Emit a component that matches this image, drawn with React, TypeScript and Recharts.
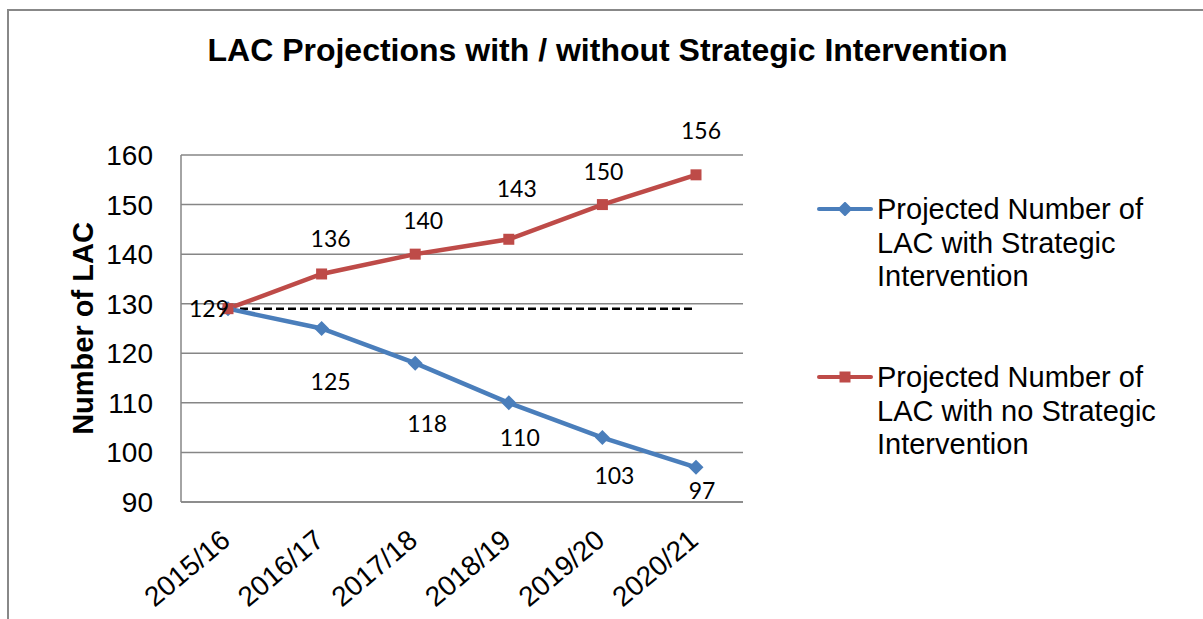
import { LineChart, Line, XAxis, YAxis, CartesianGrid, Label } from 'recharts'

const years = ['2015/16', '2016/17', '2017/18', '2018/19', '2019/20', '2020/21']
const withIntervention = [129, 125, 118, 110, 103, 97]
const noIntervention = [129, 136, 140, 143, 150, 156]
const baseline = [129, 129, 129, 129, 129, 129]
const yTicks = [90, 100, 110, 120, 130, 140, 150, 160]

const FONT = '"Liberation Sans", Arial, sans-serif'
const BLUE = '#4A7EBB'
const RED = '#BE4B48'

// label nudges relative to each point (Excel labels were hand placed)
const blueNudge: ([number, number] | null)[] = [null, [9, 53], [12, 61], [11, 35], [12, 38], [6, 24]]
const redNudge: [number, number][] = [[-19, 0], [9, -35], [8, -33], [8, -50], [1, -33], [5, -44]]

const data = years.map((year, i) => ({
  year,
  withIntervention: withIntervention[i],
  noIntervention: noIntervention[i],
  baseline: baseline[i],
}))

const series = [
  { key: 'withIntervention', name: 'Projected Number of LAC with Strategic Intervention', color: BLUE, shape: 'diamond' },
  { key: 'noIntervention', name: 'Projected Number of LAC with no Strategic Intervention', color: RED, shape: 'square' },
]

const Marker = ({ cx, cy, shape, color }: any) => {
  if (cx == null || cy == null) return null
  if (shape === 'diamond') {
    return <polygon points={`${cx},${cy - 7.5} ${cx + 7.5},${cy} ${cx},${cy + 7.5} ${cx - 7.5},${cy}`} fill={color} />
  }
  return <rect x={cx - 5.5} y={cy - 5.5} width={11} height={11} fill={color} />
}

const makeLabel = (nudges: any[]) => (props: any) => {
  const { x, y, value, index } = props
  const n = nudges[index]
  if (!n || x == null) return null
  return (
    <text
      key={`l${index}`}
      x={x + n[0]}
      y={y + n[1] + 8}
      textAnchor="middle"
      fontSize={23}
      fontFamily="Lato, sans-serif"
      fill="#000"
    >
      {value}
    </text>
  )
}

const XTick = ({ x, y, payload }: any) => {
  const tx = x + 4
  const ty = y + 41
  return (
    <text
      x={tx}
      y={ty}
      transform={`rotate(-40 ${tx} ${ty})`}
      textAnchor="end"
      fontSize={28}
      fontFamily={FONT}
      fill="#000"
    >
      {payload.value}
    </text>
  )
}

const LegendIcon = ({ color, shape }: any) => (
  <svg width={56} height={14} style={{ position: 'absolute', left: -60, top: 9 }}>
    <line x1={2} y1={7} x2={54} y2={7} stroke={color} strokeWidth={4} strokeLinecap="round" />
    <Marker cx={28} cy={7} shape={shape} color={color} />
  </svg>
)

export default function App() {
  return (
    <div
      style={{
        position: 'absolute',
        left: 0,
        top: 0,
        width: 1203,
        height: 619,
        overflow: 'hidden',
        background: '#fff',
        fontFamily: FONT,
      }}
    >
      <div
        style={{
          position: 'absolute',
          left: 7,
          top: 9,
          width: 2000,
          height: 2000,
          border: '2px solid #888',
          boxSizing: 'border-box',
        }}
      />
      <div
        style={{
          position: 'absolute',
          left: 0,
          top: 32,
          width: 1215,
          textAlign: 'center',
          fontSize: 32,
          fontWeight: 'bold',
          color: '#000',
        }}
      >
        LAC Projections with / without Strategic Intervention
      </div>

      <div style={{ position: 'absolute', left: 0, top: 0 }}>
        <LineChart width={1203} height={619} data={data} margin={{ top: 155, right: 460, bottom: 37, left: 0 }}>
          <CartesianGrid vertical={false} stroke="#868686" strokeWidth={1.5} />
          <XAxis
            dataKey="year"
            padding={{ left: 47, right: 47 }}
            axisLine={{ stroke: '#868686', strokeWidth: 1.5 }}
            tickLine={false}
            tickSize={0}
            tickMargin={0}
            height={80}
            interval={0}
            tick={<XTick />}
          />
          <YAxis
            domain={[90, 160]}
            ticks={yTicks}
            width={181}
            axisLine={{ stroke: '#868686', strokeWidth: 1.5 }}
            tickLine={false}
            tickSize={0}
            tickMargin={28}
            tick={{ fill: '#000', fontSize: 28, fontFamily: FONT }}
          >
            <Label
              content={(props: any) => {
                const vb = props.viewBox || {}
                const cy = vb.y + vb.height / 2
                return (
                  <text
                    x={93}
                    y={cy}
                    transform={`rotate(-90 93 ${cy})`}
                    textAnchor="middle"
                    fontSize={29}
                    fontWeight="bold"
                    fontFamily={FONT}
                    fill="#000"
                  >
                    Number of LAC
                  </text>
                )
              }}
            />
          </YAxis>
          <Line
            dataKey="baseline"
            stroke="#000"
            strokeWidth={2.5}
            strokeDasharray="8 4"
            dot={false}
            activeDot={false}
            legendType="none"
            isAnimationActive={false}
          />
          <Line
            dataKey="withIntervention"
            name={series[0].name}
            stroke={BLUE}
            strokeWidth={4.5}
            dot={(p: any) => <Marker key={`b${p.index}`} cx={p.cx} cy={p.cy} shape="diamond" color={BLUE} />}
            label={makeLabel(blueNudge)}
            isAnimationActive={false}
          />
          <Line
            dataKey="noIntervention"
            name={series[1].name}
            stroke={RED}
            strokeWidth={4.5}
            dot={(p: any) => <Marker key={`r${p.index}`} cx={p.cx} cy={p.cy} shape="square" color={RED} />}
            label={makeLabel(redNudge)}
            isAnimationActive={false}
          />
        </LineChart>
      </div>

      <div style={{ position: 'absolute', left: 877, top: 193, width: 300 }}>
        {series.map((s, i) => (
          <div
            key={s.key}
            style={{
              position: 'relative',
              fontSize: 29,
              lineHeight: '33.5px',
              color: '#000',
              marginBottom: i === 0 ? 67.5 : 0,
            }}
          >
            <LegendIcon color={s.color} shape={s.shape} />
            {s.name}
          </div>
        ))}
      </div>
    </div>
  )
}
